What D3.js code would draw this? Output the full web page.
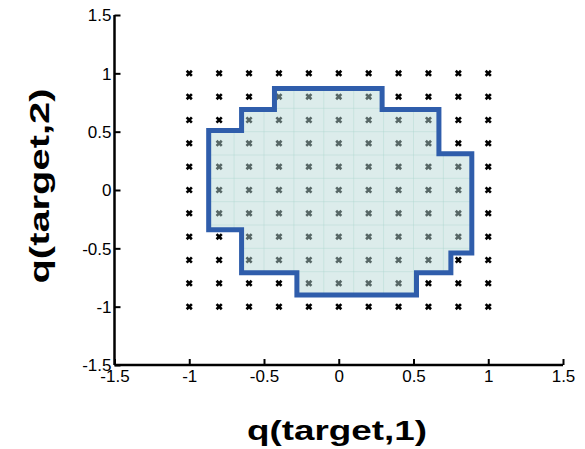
<!DOCTYPE html>
<html>
<head>
<meta charset="utf-8">
<script src="https://cdn.jsdelivr.net/npm/d3@7"></script>
<style>
  html, body { margin: 0; padding: 0; background: #fff; }
  svg { display: block; }
  text { font-family: "Liberation Sans", Arial, sans-serif; }
</style>
</head>
<body>
<script>
// Sample grid coordinates (both axes)
const gridValues = [-1, -0.8, -0.6, -0.4, -0.2, 0, 0.2, 0.4, 0.6, 0.8, 1];
// Axis ticks
const tickValues = [-1.5, -1, -0.5, 0, 0.5, 1, 1.5];
const tickLabels = ["-1.5", "-1", "-0.5", "0", "0.5", "1", "1.5"];
// Boundary of the reachable region, as [q1, q2] vertices
const regionX = [-0.43, 0.29, 0.29, 0.67, 0.67, 0.89, 0.89, 0.75, 0.75, 0.52, 0.52, -0.28, -0.28, -0.65, -0.65, -0.87, -0.87, -0.65, -0.65, -0.43];
const regionY = [0.87, 0.87, 0.69, 0.69, 0.31, 0.31, -0.54, -0.54, -0.71, -0.71, -0.90, -0.90, -0.71, -0.71, -0.34, -0.34, 0.51, 0.51, 0.69, 0.69];
const xTitle = "q(target,1)";
const yTitle = "q(target,2)";

const W = 585, H = 449;
const svg = d3.select("body").append("svg").attr("width", W).attr("height", H);

const x = d3.scaleLinear().domain([-1.5, 1.5]).range([114.5, 563]);
const y = d3.scaleLinear().domain([-1.5, 1.5]).range([365, 15]);

// grid sample markers
const pts = [];
gridValues.forEach(gx => gridValues.forEach(gy => pts.push([gx, gy])));
const s = 2.6;
const mk = svg.append("g").attr("stroke", "#000").attr("stroke-width", 2.6);
pts.forEach(([gx, gy]) => {
  const cx = x(gx), cy = y(gy);
  mk.append("path").attr("d", `M${cx - s},${cy - s}L${cx + s},${cy + s}M${cx - s},${cy + s}L${cx + s},${cy - s}`);
});

// region polygon
const region = regionX.map((v, i) => [x(v), y(regionY[i])]);
const line = d3.line().curve(d3.curveLinearClosed);

svg.append("defs").append("clipPath").attr("id", "regionClip")
  .append("path").attr("d", line(region));

svg.append("path")
  .attr("d", line(region))
  .attr("fill", "rgb(182,216,213)")
  .attr("fill-opacity", 0.48)
  .attr("stroke", "none");

// faint cell edges inside the region
const mids = gridValues.slice(1).map((v, i) => (v + gridValues[i]) / 2);
const cells = svg.append("g").attr("clip-path", "url(#regionClip)")
  .attr("stroke", "rgb(170,214,206)").attr("stroke-width", 1).attr("stroke-opacity", 0.4);
mids.forEach(m => {
  cells.append("line").attr("x1", x(m)).attr("x2", x(m)).attr("y1", y(1.5)).attr("y2", y(-1.5));
  cells.append("line").attr("y1", y(m)).attr("y2", y(m)).attr("x1", x(-1.5)).attr("x2", x(1.5));
});

svg.append("path")
  .attr("d", line(region))
  .attr("fill", "none")
  .attr("stroke", "#2f5dab")
  .attr("stroke-width", 5)
  .attr("stroke-linejoin", "miter");

// axes
const xAxis = d3.axisBottom(x).tickValues(tickValues).tickSize(-6).tickPadding(9)
  .tickFormat((d, i) => tickLabels[i]);
const yAxis = d3.axisLeft(y).tickValues(tickValues).tickSize(-6).tickPadding(3)
  .tickFormat((d, i) => tickLabels[i]);

const gx = svg.append("g").attr("transform", `translate(0,${y(-1.5)})`).call(xAxis);
const gy = svg.append("g").attr("transform", `translate(${x(-1.5)},0)`).call(yAxis);
[gx, gy].forEach(g => {
  g.select(".domain").attr("stroke", "#000").attr("stroke-width", 2.5)
    .attr("d", g === gx ? `M${x(-1.5)},0H${x(1.5)}` : `M0,${y(-1.5)}V${y(1.5)}`);
  g.selectAll(".tick line").attr("stroke", "#000").attr("stroke-width", 2);
  g.selectAll(".tick text").attr("font-size", 17).attr("fill", "#000")
    .attr("font-family", "'Liberation Sans', Arial, sans-serif");
});
gx.selectAll(".tick text").attr("dy", "0.45em");
gy.selectAll(".tick text").attr("dy", "0.35em");

// axis titles
svg.append("text")
  .attr("x", 337).attr("y", 440)
  .attr("text-anchor", "middle")
  .attr("font-size", 27).attr("font-weight", "bold")
  .attr("textLength", 180).attr("lengthAdjust", "spacingAndGlyphs")
  .text(xTitle);

svg.append("text")
  .attr("transform", "translate(49,186) rotate(-90)")
  .attr("text-anchor", "middle")
  .attr("font-size", 28).attr("font-weight", "bold")
  .attr("textLength", 195).attr("lengthAdjust", "spacingAndGlyphs")
  .text(yTitle);
</script>
</body>
</html>
